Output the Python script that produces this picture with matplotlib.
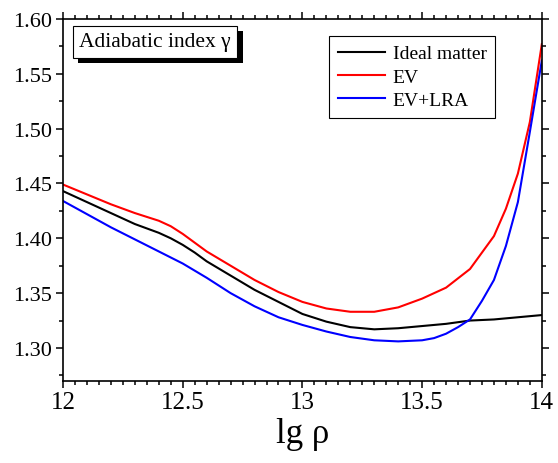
import matplotlib
matplotlib.use('Agg')
import matplotlib.pyplot as plt
import matplotlib.patheffects as pe
from matplotlib.ticker import MultipleLocator

plt.rcParams['font.family'] = ['Liberation Serif', 'DejaVu Serif']
plt.rcParams['mathtext.fontset'] = 'stix'

# lg rho grid for each curve
x_ideal = [12.00, 12.10, 12.20, 12.30, 12.40, 12.45, 12.50, 12.55, 12.60, 12.70,
           12.80, 12.90, 13.00, 13.10, 13.20, 13.30, 13.40, 13.50, 13.60, 13.70,
           13.80, 13.90, 14.00]
g_ideal = [1.443, 1.433, 1.423, 1.413, 1.405, 1.400, 1.394, 1.387, 1.379, 1.366,
           1.353, 1.342, 1.331, 1.324, 1.319, 1.317, 1.318, 1.320, 1.322, 1.325,
           1.326, 1.328, 1.330]

x_ev = [12.00, 12.10, 12.20, 12.30, 12.40, 12.45, 12.50, 12.55, 12.60, 12.70,
        12.80, 12.90, 13.00, 13.10, 13.20, 13.30, 13.40, 13.50, 13.60, 13.70,
        13.80, 13.85, 13.90, 13.95, 14.00]
g_ev = [1.449, 1.440, 1.431, 1.423, 1.416, 1.411, 1.404, 1.396, 1.388, 1.375,
        1.362, 1.351, 1.342, 1.336, 1.333, 1.333, 1.337, 1.345, 1.355, 1.372,
        1.402, 1.427, 1.459, 1.506, 1.577]

x_lra = [12.00, 12.10, 12.20, 12.30, 12.40, 12.50, 12.60, 12.70, 12.80, 12.90,
         13.00, 13.10, 13.20, 13.30, 13.40, 13.50, 13.55, 13.60, 13.65, 13.70,
         13.75, 13.80, 13.85, 13.90, 13.95, 14.00]
g_lra = [1.434, 1.422, 1.410, 1.399, 1.388, 1.377, 1.364, 1.350, 1.338, 1.328,
         1.321, 1.315, 1.310, 1.307, 1.306, 1.307, 1.309, 1.313, 1.319, 1.326,
         1.343, 1.362, 1.393, 1.433, 1.497, 1.562]

fig = plt.figure(figsize=(5.58, 4.64), dpi=100)
ax = fig.add_axes([0.113, 0.177, 0.858, 0.780])

ax.plot(x_ideal, g_ideal, color='black', lw=1.5, label='Ideal matter')
ax.plot(x_ev, g_ev, color='red', lw=1.5, label='EV')
ax.plot(x_lra, g_lra, color='blue', lw=1.5, label='EV+LRA')

ax.set_xlim(12, 14)
ax.set_ylim(1.27, 1.60)
ax.xaxis.set_major_locator(MultipleLocator(0.5))
ax.xaxis.set_minor_locator(MultipleLocator(0.05))
ax.yaxis.set_major_locator(MultipleLocator(0.05))
ax.yaxis.set_minor_locator(MultipleLocator(0.025))
ax.xaxis.set_major_formatter(plt.FuncFormatter(lambda v, p: f'{v:g}'))
ax.yaxis.set_major_formatter(plt.FuncFormatter(lambda v, p: f'{v:.2f}'))

for s in ax.spines.values():
    s.set_linewidth(1.2)
ax.tick_params(which='both', direction='out', top=True, right=True, width=1.1)
ax.tick_params(which='major', length=5)
ax.tick_params(which='minor', length=3)
ax.tick_params(axis='x', labelsize=18, pad=2)
ax.tick_params(axis='y', labelsize=16, pad=3)
for lbl in ax.get_xticklabels() + ax.get_yticklabels():
    lbl.set_family('Liberation Serif')

ax.set_xlabel('lg ρ', fontsize=25, labelpad=3)

t = ax.text(0.034, 0.937, 'Adiabatic index γ', transform=ax.transAxes,
            fontsize=15.5, va='center', ha='left',
            bbox=dict(boxstyle='square,pad=0.3', fc='white', ec='black', lw=0.8))
t.get_bbox_patch().set_path_effects([
    pe.SimplePatchShadow(offset=(4, -4), shadow_rgbFace='black', alpha=1.0),
    pe.Normal()])

leg = ax.legend(loc='upper right', bbox_to_anchor=(0.903, 0.953), fontsize=14,
                frameon=True, fancybox=False, framealpha=1, edgecolor='black',
                handlelength=2.4, borderpad=0.45, labelspacing=0.3,
                handletextpad=0.4, borderaxespad=0)
leg.get_frame().set_linewidth(0.8)

fig.savefig('out.png', dpi=100)
